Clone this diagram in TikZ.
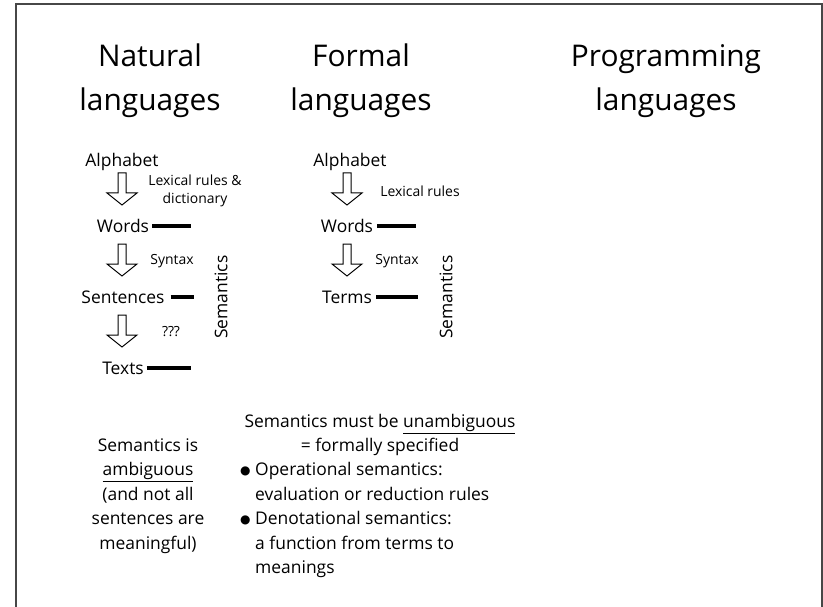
\documentclass[tikz,border=0pt]{standalone}
\usepackage{fontspec}
\setmainfont{Open Sans}
\newfontfamily\symfont{DejaVu Sans}
\newcommand\bigdot{\makebox[15bp][l]{\raisebox{1.5bp}{\symfont\fontsize{12}{12}\selectfont ●}}}
\begin{document}
\begin{tikzpicture}[x=1bp,y=-1bp,
  title/.style={font=\fontsize{30}{44}\selectfont, align=center, inner sep=0pt},
  lbl/.style={font=\fontsize{17.5}{20}\selectfont, inner sep=1bp, text height=12.5bp, text depth=0bp},
  small/.style={font=\fontsize{14}{17.5}\selectfont, align=center, inner sep=0pt},
  body/.style={font=\fontsize{17.5}{24.6}\selectfont, inner sep=0pt},
  bar/.style={line width=3.5bp},
  frameline/.style={line width=1.5bp, draw=black!72},
  downarrow/.pic={\draw[line width=1bp, fill=white, line join=miter]
     (-4,-16) -- (4,-16) -- (4,4) -- (15,4) -- (0,16) -- (-15,4) -- (-4,4) -- cycle;}
]
\useasboundingbox (0,0) rectangle (823,607);
% slide frame, open at the bottom
\draw[frameline] (16,607) -- (16,4) -- (822,4) -- (822,607);

% column titles
\node[title] (tnat) at (150,81) {Natural\\languages};
\node[title] (tfor) at (361,81) {Formal\\languages};
\node[title] (tpro) at (666,81) {Programming\\languages};

% natural languages
\node[lbl] (nalpha) at (122,160) {Alphabet};
\node[lbl] (nwords) at (123,226) {Words};
\node[lbl] (nsent)  at (123,297) {Sentences};
\node[lbl] (ntext)  at (123,368) {Texts};
\pic at (122,189) {downarrow};
\pic at (122,260) {downarrow};
\pic at (122,331) {downarrow};
\node[small] (nlex) at (195,191) {Lexical rules \&\\dictionary};
\node[small] (nsyn) at (172,261) {Syntax};
\node[small] (nqqq) at (171,332) {???};
\coordinate (nwe) at (191,226);
\coordinate (nse) at (194,297);
\coordinate (nte) at (191,368);
\draw[bar] ([xshift=2bp]nwords.east) -- (nwe);
\draw[bar] ([xshift=5bp]nsent.east) -- (nse);
\draw[bar] ([xshift=2bp]ntext.east) -- (nte);
\node[lbl, rotate=90] (nsem) at (221,297) {Semantics};

% formal languages
\node[lbl] (falpha) at (350,160) {Alphabet};
\node[lbl] (fwords) at (347,226) {Words};
\node[lbl] (fterms) at (347,297) {Terms};
\pic at (347,189) {downarrow};
\pic at (347,260) {downarrow};
\node[small] (flex) at (420,191) {Lexical rules};
\node[small] (fsyn) at (397,261) {Syntax};
\coordinate (fwe) at (416,226);
\coordinate (fte) at (418,297);
\draw[bar] ([xshift=3bp]fwords.east) -- (fwe);
\draw[bar] ([xshift=3bp]fterms.east) -- (fte);
\node[lbl, rotate=90] (fsem) at (446,297) {Semantics};

% remarks
\node[body, align=center] (namb) at (148,496)
  {Semantics is\\\underline{ambiguous}\\(and not all\\sentences are\\meaningful)};
\node[body, align=center] (fhead) at (380,435)
  {Semantics must be \underline{unambiguous}\\= formally specified};
\node[body, align=left, anchor=west] (flist) at (240,520)
  {\bigdot Operational semantics:\\
   \hspace*{15bp}evaluation or reduction rules\\
   \bigdot Denotational semantics:\\
   \hspace*{15bp}a function from terms to\\
   \hspace*{15bp}meanings};
\end{tikzpicture}
\end{document}
